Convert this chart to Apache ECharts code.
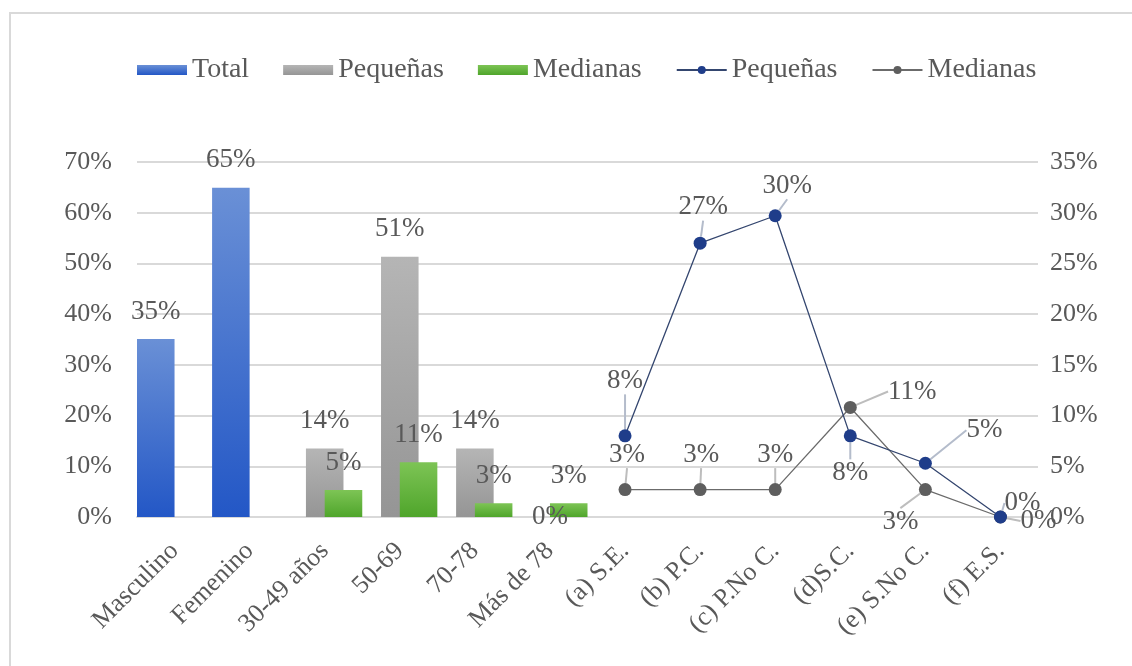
<!DOCTYPE html>
<html>
<head>
<meta charset="utf-8">
<script src="https://cdn.jsdelivr.net/npm/echarts@6/dist/echarts.min.js"></script>
<style>
  html, body { margin: 0; padding: 0; background: #fff; }
  #main { width: 1132px; height: 666px; }
</style>
</head>
<body>
<div id="main"></div>
<script>
// categorias del eje x
const categories = ['Masculino', 'Femenino', '30-49 años', '50-69', '70-78', 'Más de 78',
  '(a) S.E.', '(b) P.C.', '(c) P.No C.', '(d)S.C.', '(e) S.No C.', '(f) E.S.'];

// barras (eje izquierdo, %)
const totalBars = [35.1, 64.9, null, null, null, null, null, null, null, null, null, null];
const pequenasBars = [null, null, 13.5, 51.3, 13.5, 0, null, null, null, null, null, null];
const medianasBars = [null, null, 5.3, 10.8, 2.7, 2.7, null, null, null, null, null, null];

// lineas (eje derecho, %)
const pequenasLine = [null, null, null, null, null, null, 8.0, 27.0, 29.7, 8.0, 5.3, 0];
const medianasLine = [null, null, null, null, null, null, 2.7, 2.7, 2.7, 10.8, 2.7, 0];

// ticks
const leftTicks = { min: 0, max: 70, interval: 10 };
const rightTicks = { min: 0, max: 35, interval: 5 };

// desplazamiento de etiquetas de las lineas (px, respecto al punto)
const pequenasLabelOffset = [[0, -55], [3, -36], [12, -30], [0, 37], [59, -33], [22, -14]];
const medianasLabelOffset = [[2, -35], [1, -35], [0, -35], [62, -16], [-25, 32], [38, 4]];

const FONT = 'Liberation Serif';
const TXT = '#595959';

var chartDom = document.getElementById('main');
var myChart = echarts.init(chartDom);

function grad(top, bottom) {
  return new echarts.graphic.LinearGradient(0, 0, 0, 1, [
    { offset: 0, color: top },
    { offset: 1, color: bottom }
  ]);
}

const pct = p => Math.round(p.value) + '%';

const barLabel = {
  show: true,
  position: 'top',
  distance: 14,
  color: TXT,
  fontFamily: FONT,
  fontSize: 27,
  formatter: pct
};

function lineLayout(offsets) {
  return function (params) {
    const off = offsets[params.dataIndex - 6];
    if (!off) return {};
    return {
      x: params.rect.x + params.rect.width / 2 + off[0],
      y: params.rect.y + params.rect.height / 2 + off[1],
      align: 'center',
      verticalAlign: 'middle'
    };
  };
}

const lineLabel = {
  show: true,
  color: TXT,
  fontFamily: FONT,
  fontSize: 27,
  formatter: pct
};

var option = {
  animation: false,
  graphic: [
    {
      type: 'rect',
      shape: { x: 10, y: 13, width: 1200, height: 700 },
      style: { fill: 'none', stroke: '#d9d9d9', lineWidth: 2 },
      silent: true
    }
  ],
  legend: {
    left: 132,
    top: 51,
    itemWidth: 50,
    itemHeight: 10,
    itemGap: 34,
    formatter: name => name.trim(),
    textStyle: { color: TXT, fontFamily: FONT, fontSize: 28 },
    data: [
      { name: 'Total', icon: 'rect' },
      { name: 'Pequeñas', icon: 'rect' },
      { name: 'Medianas', icon: 'rect' },
      { name: 'Pequeñas ' },
      { name: 'Medianas ' }
    ]
  },
  grid: {
    left: 137,
    right: 94,
    top: 162,
    bottom: 149,
    containLabel: false
  },
  xAxis: {
    type: 'category',
    data: categories,
    axisTick: { show: false },
    axisLine: { lineStyle: { color: '#d9d9d9', width: 2 } },
    axisLabel: {
      rotate: 45,
      margin: 30,
      interval: 0,
      color: TXT,
      fontFamily: FONT,
      fontSize: 26
    }
  },
  yAxis: [
    {
      type: 'value',
      min: leftTicks.min,
      max: leftTicks.max,
      interval: leftTicks.interval,
      axisLine: { show: false },
      axisTick: { show: false },
      splitLine: { lineStyle: { color: '#d9d9d9', width: 2 } },
      axisLabel: { formatter: '{value}%', margin: 25, color: TXT, fontFamily: FONT, fontSize: 26 }
    },
    {
      type: 'value',
      min: rightTicks.min,
      max: rightTicks.max,
      interval: rightTicks.interval,
      axisLine: { show: false },
      axisTick: { show: false },
      splitLine: { show: false },
      axisLabel: { formatter: '{value}%', margin: 12, color: TXT, fontFamily: FONT, fontSize: 26 }
    }
  ],
  series: [
    {
      name: 'Total',
      type: 'bar',
      barWidth: '50%',
      barGap: '-50%',
      data: totalBars,
      label: barLabel,
      itemStyle: { color: grad('#6a90d6', '#2357c6') }
    },
    {
      name: 'Pequeñas',
      type: 'bar',
      barWidth: '50%',
      barGap: '-50%',
      data: pequenasBars.map(v => v === 0 ? { value: v, label: { position: 'inside', color: TXT } } : v),
      label: barLabel,
      itemStyle: { color: grad('#b5b5b5', '#959595') }
    },
    {
      name: 'Medianas',
      type: 'bar',
      barWidth: '50%',
      barGap: '-50%',
      data: medianasBars,
      label: barLabel,
      itemStyle: { color: grad('#7dc455', '#4fa52b') }
    },
    {
      name: 'Pequeñas ',
      type: 'line',
      yAxisIndex: 1,
      data: pequenasLine,
      symbol: 'circle',
      symbolSize: 13,
      z: 5,
      lineStyle: { color: '#34466f', width: 1.3 },
      itemStyle: { color: '#1f3d8a' },
      label: lineLabel,
      labelLine: { show: true, lineStyle: { color: '#b4bccb', width: 2 } },
      labelLayout: lineLayout(pequenasLabelOffset)
    },
    {
      name: 'Medianas ',
      type: 'line',
      yAxisIndex: 1,
      data: medianasLine,
      symbol: 'circle',
      symbolSize: 13,
      z: 4,
      lineStyle: { color: '#6b6b6b', width: 1.3 },
      itemStyle: { color: '#5e5e5e' },
      label: lineLabel,
      labelLine: { show: true, lineStyle: { color: '#bdbdbd', width: 2 } },
      labelLayout: lineLayout(medianasLabelOffset)
    }
  ]
};

option && myChart.setOption(option);
</script>
</body>
</html>
